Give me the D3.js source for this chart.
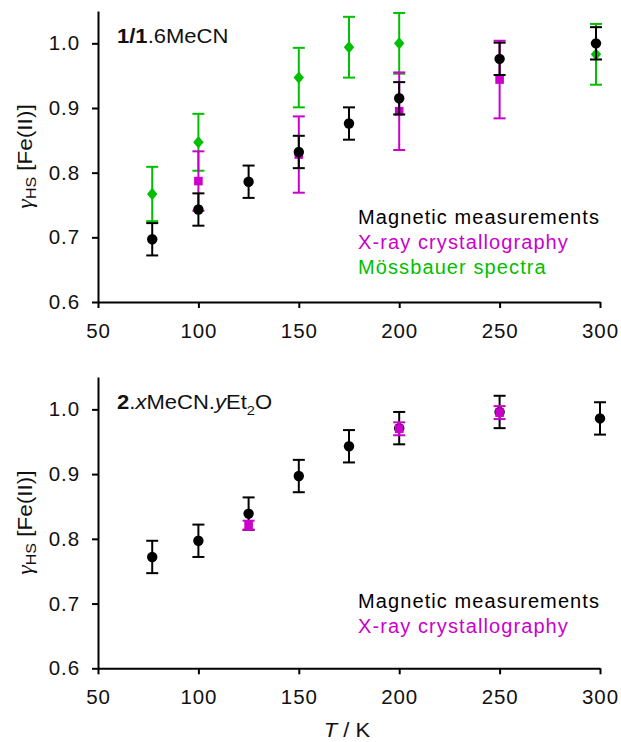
<!DOCTYPE html>
<html><head><meta charset="utf-8">
<script src="https://cdn.jsdelivr.net/npm/d3@7"></script>
<style>
html,body{margin:0;padding:0;background:#fff;}
text{font-family:"Liberation Sans",Arial,sans-serif;}
</style></head>
<body>
<svg id="c" width="621" height="742"></svg>
<script>
// ---- data ----
const xTicks = [50,100,150,200,250,300];
const yTicks = [0.6,0.7,0.8,0.9,1.0];

// Top panel: 1/1.6MeCN
const topMagT = [77,100,125,150,175,200,250,298];
const topMagY = [0.697,0.743,0.786,0.832,0.876,0.915,0.976,1.000];
const topMagE = [0.025,0.025,0.025,0.025,0.025,0.025,0.025,0.025];
const topXrayT = [100,150,200,250];
const topXrayY = [0.787,0.828,0.895,0.944];
const topXrayE = [0.046,0.059,0.060,0.060];
const topMossT = [77,100,150,175,200,298];
const topMossY = [0.767,0.847,0.947,0.994,1.000,0.983];
const topMossE = [0.042,0.044,0.046,0.047,0.047,0.047];

// Bottom panel: 2.xMeCN.yEt2O
const botMagT = [77,100,125,150,175,200,250,300];
const botMagY = [0.772,0.797,0.839,0.897,0.943,0.971,0.996,0.986];
const botMagE = [0.025,0.025,0.025,0.025,0.025,0.025,0.025,0.025];
const botXrayT = [125,200,250];
const botXrayY = [0.821,0.970,0.995];
const botXrayE = [0.007,0.010,0.010];

const seriesNames = ["Magnetic measurements","X-ray crystallography","Mössbauer spectra"];
const colors = {mag:"#000000", xray:"#cc00cc", moss:"#00c000"};

// ---- drawing ----
const svg = d3.select("#c");
const x = d3.scaleLinear().domain([50,300]).range([98,600]);

function panel(yRange, cfg){
  const y = d3.scaleLinear().domain([0.6,1.05]).range(yRange);
  const g = svg.append("g");
  // axes
  const ya = g.append("g").attr("transform","translate(98,0)")
    .call(d3.axisLeft(y).tickValues(yTicks).tickFormat(d3.format(".1f")).tickSize(6).tickSizeOuter(0).tickPadding(12));
  const xa = g.append("g").attr("transform",`translate(0,${yRange[0]})`)
    .call(d3.axisBottom(x).tickValues(xTicks).tickFormat(d3.format("d")).tickSize(6).tickSizeOuter(0).tickPadding(15));
  [ya,xa].forEach(a=>{
    a.selectAll("path,line").attr("stroke","#000").attr("stroke-width",2);
    a.selectAll("text").attr("font-size",20.5).attr("fill","#111").attr("font-family","Liberation Sans, Arial, sans-serif").attr("letter-spacing",0.9);
  });
  xa.selectAll("text").attr("dy","0.71em");

  function errs(T,Y,E,col,cap){
    const d = T.map((t,i)=>({t,y:Y[i],e:E[i]}));
    const eg = g.append("g").attr("stroke",col).attr("stroke-width",2);
    eg.selectAll("line.v").data(d).join("line")
      .attr("x1",d=>x(d.t)).attr("x2",d=>x(d.t)).attr("y1",d=>y(d.y-d.e)).attr("y2",d=>y(d.y+d.e));
    eg.selectAll("line.t").data(d).join("line").attr("class","t")
      .attr("x1",d=>x(d.t)-cap).attr("x2",d=>x(d.t)+cap).attr("y1",d=>y(d.y+d.e)).attr("y2",d=>y(d.y+d.e));
    eg.selectAll("line.b").data(d).join("line").attr("class","b")
      .attr("x1",d=>x(d.t)-cap).attr("x2",d=>x(d.t)+cap).attr("y1",d=>y(d.y-d.e)).attr("y2",d=>y(d.y-d.e));
    return d;
  }
  function circles(T,Y,E){
    const d = errs(T,Y,E,colors.mag,6);
    g.append("g").selectAll("circle").data(d).join("circle")
      .attr("cx",d=>x(d.t)).attr("cy",d=>y(d.y)).attr("r",5.2).attr("fill",colors.mag);
  }
  function squares(T,Y,E){
    const d = errs(T,Y,E,colors.xray,6);
    g.append("g").selectAll("rect").data(d).join("rect")
      .attr("x",d=>x(d.t)-4.3).attr("y",d=>y(d.y)-4.3).attr("width",8.6).attr("height",8.6).attr("fill",colors.xray);
  }
  function diamonds(T,Y,E){
    const d = errs(T,Y,E,colors.moss,6);
    g.append("g").selectAll("path").data(d).join("path")
      .attr("d",d=>{const cx=x(d.t),cy=y(d.y);return `M${cx},${cy-6.2}L${cx+5.2},${cy}L${cx},${cy+6.2}L${cx-5.2},${cy}Z`;})
      .attr("fill",colors.moss);
  }
  cfg.draw({circles,squares,diamonds});

  // y label
  const yl = g.append("text").attr("transform",`translate(32,${(yRange[0]+yRange[1])/2}) rotate(-90) scale(1.1,1)`)
    .attr("text-anchor","middle").attr("font-size",20.5).attr("fill","#111");
  yl.append("tspan").attr("font-family","Liberation Serif, Times New Roman, serif").attr("font-style","italic").attr("font-size",22).text("γ");
  yl.append("tspan").attr("font-size",14.5).attr("dy",4).text("HS");
  yl.append("tspan").attr("dy",-4).text(" [Fe(II)]");

  // title (source text is horizontally stretched)
  const tt = g.append("text").attr("transform",`translate(117,${yRange[1]+31.5}) scale(1.13,1)`)
    .attr("font-size",19.5).attr("fill","#111");
  cfg.title(tt);

  // legend
  cfg.legend.forEach((l,i)=>{
    g.append("text").attr("x",358).attr("y",cfg.legendY+i*25).attr("font-size",20).attr("letter-spacing",1.1)
      .attr("fill",l.c).text(l.n);
  });
  return y;
}

panel([302,11],{
  draw:({circles,squares,diamonds})=>{
    diamonds(topMossT,topMossY,topMossE);
    squares(topXrayT,topXrayY,topXrayE);
    circles(topMagT,topMagY,topMagE);
  },
  title:t=>{
    t.append("tspan").attr("font-weight","bold").text("1/1");
    t.append("tspan").text(".6MeCN");
  },
  legend:[{n:seriesNames[0],c:colors.mag},{n:seriesNames[1],c:colors.xray},{n:seriesNames[2],c:colors.moss}],
  legendY:224
});

panel([668.3,377],{
  draw:({circles,squares})=>{
    circles(botMagT,botMagY,botMagE);
    squares(botXrayT,botXrayY,botXrayE);
  },
  title:t=>{
    t.append("tspan").attr("font-weight","bold").text("2");
    t.append("tspan").text(".");
    t.append("tspan").attr("font-style","italic").text("x");
    t.append("tspan").text("MeCN.");
    t.append("tspan").attr("font-style","italic").text("y");
    t.append("tspan").text("Et");
    t.append("tspan").attr("font-size",13).attr("dy",6).text("2");
    t.append("tspan").attr("dy",-6).text("O");
  },
  legend:[{n:seriesNames[0],c:colors.mag},{n:seriesNames[1],c:colors.xray}],
  legendY:608
});

// x label
const xl = svg.append("text").attr("transform","translate(347,737) scale(1.1,1)").attr("text-anchor","middle").attr("font-size",20).attr("fill","#111");
xl.append("tspan").attr("font-style","italic").text("T");
xl.append("tspan").text(" / K");
</script>
</body></html>
